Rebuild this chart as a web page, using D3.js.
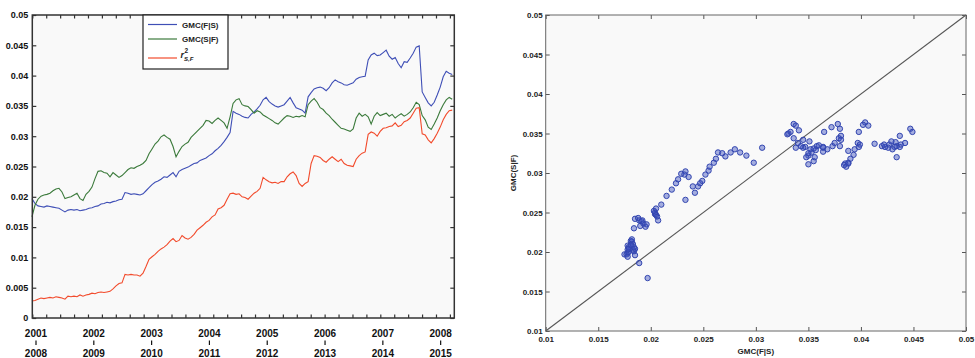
<!DOCTYPE html>
<html>
<head>
<meta charset="utf-8">
<script src="https://cdn.jsdelivr.net/npm/d3@7"></script>
<style>
  body { margin: 0; background: #fff; }
  svg { display: block; font-family: "Liberation Sans", Arial, sans-serif; }
</style>
</head>
<body>
<svg id="chart" width="975" height="358"></svg>
<script>
// series, evenly spaced in time
const gmcFS = [
  0.0197,0.0189,0.0185,0.0184,0.0183,0.0185,0.0184,0.0183,0.0182,0.0181,
  0.0178,0.0175,0.0178,0.0179,0.0178,0.0179,0.0177,0.0178,0.0179,0.0181,
  0.0182,0.0184,0.0185,0.0188,0.0189,0.0191,0.0190,0.0192,0.0193,0.0195,
  0.0196,0.0207,0.0206,0.0204,0.0205,0.0204,0.0203,0.0205,0.0210,0.0215,
  0.0220,0.0224,0.0226,0.0229,0.0233,0.0232,0.0236,0.0240,0.0233,0.0242,
  0.0245,0.0247,0.0249,0.0252,0.0255,0.0256,0.0260,0.0262,0.0264,0.0268,
  0.0271,0.0276,0.0280,0.0285,0.0291,0.0298,0.0306,0.0341,0.0338,0.0336,
  0.0333,0.0331,0.0330,0.0336,0.0340,0.0345,0.0351,0.0360,0.0364,0.0357,
  0.0353,0.0350,0.0348,0.0350,0.0352,0.0358,0.0364,0.0355,0.0347,0.0345,
  0.0343,0.0338,0.0365,0.0372,0.0378,0.0380,0.0381,0.0379,0.0375,0.0380,
  0.0388,0.0393,0.0390,0.0388,0.0385,0.0384,0.0386,0.0388,0.0394,0.0397,
  0.0398,0.0399,0.0426,0.0434,0.0437,0.0433,0.0434,0.0438,0.0442,0.0432,
  0.0427,0.0430,0.0420,0.0413,0.0423,0.0422,0.0429,0.0437,0.0447,0.0449,
  0.0373,0.0364,0.0355,0.0350,0.0356,0.0368,0.0381,0.0398,0.0407,0.0404,
  0.0402
];
const gmcSF = [
  0.0167,0.0186,0.0196,0.0201,0.0203,0.0204,0.0206,0.0210,0.0213,0.0214,
  0.0208,0.0197,0.0199,0.0200,0.0203,0.0206,0.0197,0.0194,0.0204,0.0209,
  0.0216,0.0230,0.0242,0.0243,0.0240,0.0239,0.0233,0.0240,0.0236,0.0232,
  0.0235,0.0240,0.0245,0.0248,0.0247,0.0250,0.0252,0.0255,0.0260,0.0271,
  0.0279,0.0287,0.0292,0.0299,0.0302,0.0298,0.0295,0.0283,0.0266,0.0275,
  0.0283,0.0287,0.0290,0.0298,0.0303,0.0308,0.0313,0.0318,0.0326,0.0325,
  0.0321,0.0326,0.0330,0.0326,0.0322,0.0313,0.0332,0.0354,0.0360,0.0362,
  0.0352,0.0350,0.0349,0.0344,0.0338,0.0342,0.0340,0.0335,0.0332,0.0329,
  0.0326,0.0322,0.0320,0.0325,0.0330,0.0334,0.0333,0.0331,0.0333,0.0332,
  0.0334,0.0332,0.0352,0.0358,0.0362,0.0356,0.0347,0.0344,0.0338,0.0334,
  0.0328,0.0323,0.0318,0.0313,0.0312,0.0310,0.0308,0.0312,0.0330,0.0338,
  0.0333,0.0336,0.0332,0.0320,0.0333,0.0339,0.0334,0.0336,0.0338,0.0333,
  0.0336,0.0330,0.0334,0.0337,0.0333,0.0336,0.0340,0.0347,0.0356,0.0352,
  0.0334,0.0327,0.0315,0.0311,0.0320,0.0330,0.0342,0.0352,0.0360,0.0364,
  0.0361
];
const r2SF = [
  0.0028,0.0029,0.0031,0.0033,0.0032,0.0033,0.0034,0.0033,0.0035,0.0034,
  0.0033,0.0031,0.0036,0.0035,0.0036,0.0035,0.0038,0.0036,0.0038,0.0039,
  0.0041,0.0040,0.0042,0.0043,0.0042,0.0043,0.0044,0.0048,0.0053,0.0057,
  0.0058,0.0072,0.0071,0.0072,0.0071,0.0071,0.0069,0.0074,0.0085,0.0097,
  0.0101,0.0105,0.0110,0.0114,0.0117,0.0121,0.0127,0.0131,0.0126,0.0128,
  0.0136,0.0132,0.0130,0.0133,0.0138,0.0145,0.0149,0.0153,0.0158,0.0161,
  0.0167,0.0170,0.0180,0.0182,0.0186,0.0196,0.0205,0.0206,0.0204,0.0205,
  0.0200,0.0199,0.0196,0.0201,0.0206,0.0209,0.0214,0.0232,0.0228,0.0225,
  0.0223,0.0224,0.0222,0.0225,0.0225,0.0233,0.0238,0.0241,0.0235,0.0222,
  0.0217,0.0222,0.0225,0.0255,0.0268,0.0267,0.0265,0.0260,0.0257,0.0262,
  0.0266,0.0262,0.0258,0.0262,0.0255,0.0252,0.0251,0.0250,0.0262,0.0268,
  0.0272,0.0274,0.0303,0.0307,0.0305,0.0300,0.0308,0.0313,0.0314,0.0316,
  0.0317,0.0322,0.0316,0.0318,0.0324,0.0326,0.0330,0.0338,0.0346,0.0347,
  0.0304,0.0302,0.0294,0.0289,0.0296,0.0305,0.0315,0.0327,0.0336,0.0342,
  0.0343
];
const sampleStart = 2000.93, sampleEnd = 2008.20;
const yearsTop = [2001, 2002, 2003, 2004, 2005, 2006, 2007, 2008];
const yearsBottom = [2008, 2009, 2010, 2011, 2012, 2013, 2014, 2015];
const leftYTicks = [0, 0.005, 0.01, 0.015, 0.02, 0.025, 0.03, 0.035, 0.04, 0.045, 0.05];
const scatterTicks = [0.01, 0.015, 0.02, 0.025, 0.03, 0.035, 0.04, 0.045, 0.05];
const seriesNames = ["GMC(F|S)", "GMC(S|F)", "r2"];
const seriesColors = ["#3f4fb6", "#3b7a3b", "#f24b2c"];

const times = gmcFS.map((d, i) => sampleStart + i * (sampleEnd - sampleStart) / (gmcFS.length - 1));
const fmt = d => String(+d.toFixed(3));

const svg = d3.select("#chart");

// ---------- left: time series ----------
const L = {x0: 32.3, x1: 454.3, y0: 15, y1: 318};
const xT = d3.scaleLinear().domain([2000.936, 2008.236]).range([L.x0, L.x1]);
const yT = d3.scaleLinear().domain([0, 0.05]).range([L.y1, L.y0]);
const minorTicks = d3.range(31).map(k => 2000.936 + k * 0.2408);

svg.append("rect").attr("x", L.x0).attr("y", L.y0)
  .attr("width", L.x1 - L.x0).attr("height", L.y1 - L.y0).attr("fill", "#f9f9f9");

const line = d3.line().x((d, i) => xT(times[i])).y(d => yT(d));
[gmcFS, gmcSF, r2SF].forEach((s, k) => {
  svg.append("path").datum(s).attr("d", line)
    .attr("fill", "none").attr("stroke", seriesColors[k]).attr("stroke-width", 1.1);
});

const axL = svg.append("g").attr("transform", `translate(${L.x0},0)`)
  .call(d3.axisLeft(yT).tickValues(leftYTicks).tickFormat(fmt).tickSize(-4).tickPadding(4));
axL.selectAll("text").attr("font-size", 9).attr("font-weight", "bold").attr("fill", "#111");
svg.append("g").attr("transform", `translate(${L.x1},0)`)
  .call(d3.axisRight(yT).tickValues(leftYTicks).tickFormat("").tickSize(-4));
svg.append("g").attr("transform", `translate(0,${L.y1})`)
  .call(d3.axisBottom(xT).tickValues(minorTicks).tickFormat("").tickSize(-3.5));
svg.append("g").attr("transform", `translate(0,${L.y0})`)
  .call(d3.axisTop(xT).tickValues(minorTicks).tickFormat("").tickSize(-3.5));
svg.selectAll("g .domain").remove();
svg.selectAll("g .tick line").attr("stroke", "#333").attr("stroke-width", 1.2);

svg.append("rect").attr("x", L.x0).attr("y", L.y0)
  .attr("width", L.x1 - L.x0).attr("height", L.y1 - L.y0)
  .attr("fill", "none").attr("stroke", "#333").attr("stroke-width", 1.5);

// two rows of year labels
const yl = svg.append("g").attr("font-size", 10).attr("font-weight", "bold")
  .attr("fill", "#111").attr("text-anchor", "middle");
yearsTop.forEach((yr, i) => {
  const x = xT(yr);
  yl.append("text").attr("x", x).attr("y", 336.5).text(yr);
  yl.append("line").attr("x1", x).attr("x2", x).attr("y1", 340.5).attr("y2", 345)
    .attr("stroke", "#111").attr("stroke-width", 1.2);
  yl.append("text").attr("x", x).attr("y", 356.5).text(yearsBottom[i]);
});

// legend
const lg = svg.append("g");
lg.append("rect").attr("x", 143).attr("y", L.y0).attr("width", 85).attr("height", 54)
  .attr("fill", "#fff").attr("stroke", "#222").attr("stroke-width", 1.2);
const legY = [24.5, 39, 58];
legY.forEach((y, k) => {
  lg.append("line").attr("x1", 148).attr("x2", 177).attr("y1", y).attr("y2", y)
    .attr("stroke", seriesColors[k]).attr("stroke-width", 1.2);
});
lg.selectAll("text.name").data(seriesNames.slice(0, 2)).join("text")
  .attr("x", 182).attr("y", (d, i) => legY[i] + 3)
  .attr("font-size", 8).attr("font-weight", "bold").attr("fill", "#222").text(d => d);
lg.append("text").attr("x", 180.5).attr("y", 57.5).attr("font-size", 9)
  .attr("font-style", "italic").attr("font-weight", "bold").attr("fill", "#222").text("r");
lg.append("text").attr("x", 184.5).attr("y", 53).attr("font-size", 6.5)
  .attr("font-weight", "bold").attr("fill", "#222").text("2");
lg.append("text").attr("x", 184).attr("y", 60.5).attr("font-size", 6)
  .attr("font-weight", "bold").attr("font-style", "italic").attr("fill", "#222").text("S,F");

// ---------- right: scatter ----------
const R = {x0: 545.7, x1: 966, y0: 15, y1: 331};
const xS = d3.scaleLinear().domain([0.01, 0.05]).range([R.x0, R.x1]);
const yS = d3.scaleLinear().domain([0.01, 0.05]).range([R.y1, R.y0]);

svg.append("rect").attr("x", R.x0).attr("y", R.y0)
  .attr("width", R.x1 - R.x0).attr("height", R.y1 - R.y0).attr("fill", "#f9f9f9");

const g2 = svg.append("g");
g2.append("g").attr("transform", `translate(0,${R.y1})`)
  .call(d3.axisBottom(xS).tickValues(scatterTicks).tickFormat(fmt).tickSize(-4).tickPadding(5));
g2.append("g").attr("transform", `translate(${R.x0},0)`)
  .call(d3.axisLeft(yS).tickValues(scatterTicks).tickFormat(fmt).tickSize(-4).tickPadding(3));
g2.append("g").attr("transform", `translate(0,${R.y0})`)
  .call(d3.axisTop(xS).tickValues(scatterTicks).tickFormat("").tickSize(-4));
g2.append("g").attr("transform", `translate(${R.x1},0)`)
  .call(d3.axisRight(yS).tickValues(scatterTicks).tickFormat("").tickSize(-4));
g2.selectAll(".domain").remove();
g2.selectAll(".tick line").attr("stroke", "#555");
g2.selectAll(".tick text").attr("font-size", 8).attr("font-weight", "bold").attr("fill", "#222");

// diagonal
g2.append("line").attr("x1", xS(0.01)).attr("y1", yS(0.01))
  .attr("x2", xS(0.05)).attr("y2", yS(0.05))
  .attr("stroke", "#555").attr("stroke-width", 1.1);

g2.selectAll("circle").data(gmcFS).join("circle")
  .attr("cx", d => xS(d)).attr("cy", (d, i) => yS(gmcSF[i])).attr("r", 2.7)
  .attr("fill", "rgba(60,80,190,0.45)").attr("stroke", "#3346b0").attr("stroke-width", 1);

g2.append("rect").attr("x", R.x0).attr("y", R.y0)
  .attr("width", R.x1 - R.x0).attr("height", R.y1 - R.y0)
  .attr("fill", "none").attr("stroke", "#666").attr("stroke-width", 1);

g2.append("text").attr("x", (R.x0 + R.x1) / 2).attr("y", 353.5).attr("text-anchor", "middle")
  .attr("font-size", 8).attr("font-weight", "bold").attr("fill", "#222").text("GMC(F|S)");
g2.append("text").attr("transform", `translate(516,${(R.y0 + R.y1) / 2}) rotate(-90)`)
  .attr("text-anchor", "middle").attr("font-size", 8).attr("font-weight", "bold")
  .attr("fill", "#222").text("GMC(S|F)");
</script>
</body>
</html>
